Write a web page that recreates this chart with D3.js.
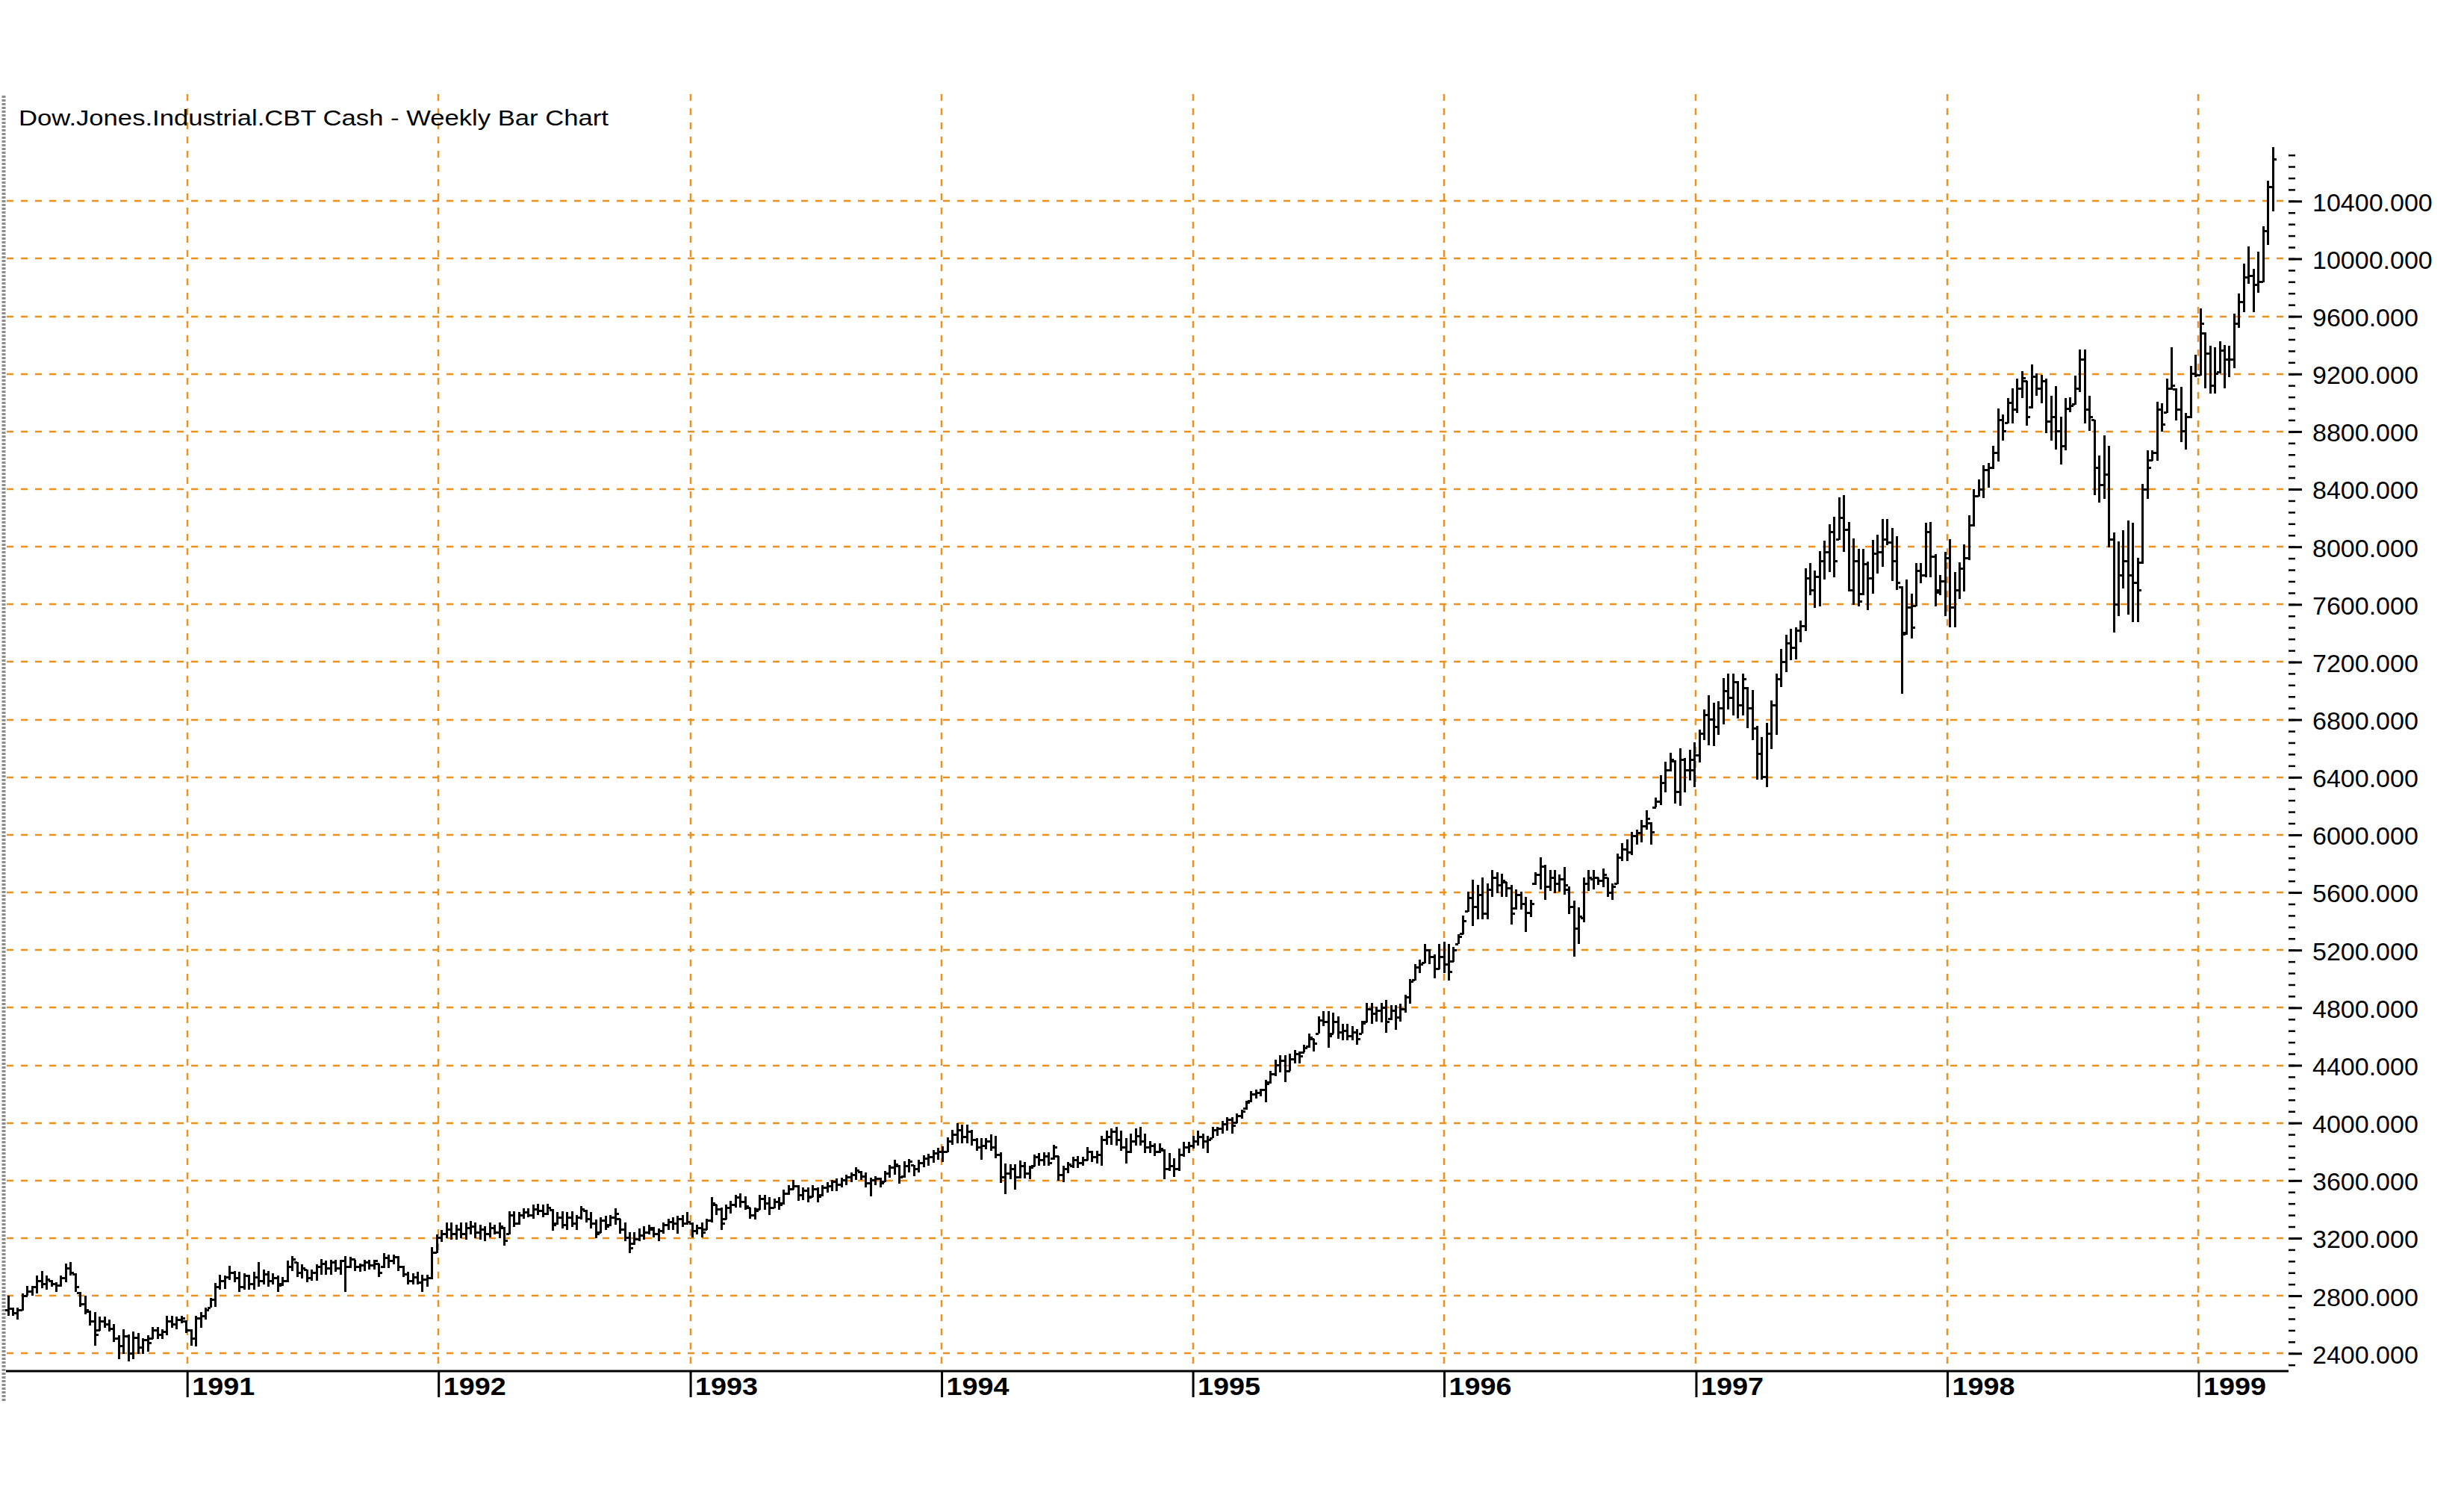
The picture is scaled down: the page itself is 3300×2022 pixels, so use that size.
<!DOCTYPE html>
<html>
<head>
<meta charset="utf-8">
<script src="https://cdn.jsdelivr.net/npm/d3@7"></script>
<style>
  body { margin: 0; background: #fff; }
  text { font-family: "Liberation Sans", Arial, sans-serif; }
</style>
</head>
<body>
<div id="chart"></div>
<script>

var title = "Dow.Jones.Industrial.CBT Cash - Weekly Bar Chart";

// weekly bars [open, high, low, close], grouped by the year the week ends in
var w1990 = [
  [2700,2800,2663,2710],[2710,2715,2663,2680],[2680,2715,2637,2700],[2700,2818,2697,2800],
  [2800,2870,2800,2830],[2830,2870,2800,2860],[2860,2939,2818,2900],[2900,2974,2853,2880],
  [2880,2939,2844,2910],[2900,2910,2865,2880],[2880,2896,2827,2870],[2870,2939,2865,2920],
  [2920,3025,2896,2990],[2990,3034,2939,2960],[2950,2956,2827,2860],[2820,2827,2723,2740],
  [2740,2800,2671,2700],[2690,2697,2594,2620],[2620,2689,2455,2530],[2560,2654,2559,2620],
  [2620,2654,2576,2600],[2600,2637,2550,2570],[2570,2602,2481,2500],[2500,2524,2360,2450],
  [2450,2568,2395,2520],[2520,2533,2343,2400],[2400,2550,2360,2510],[2510,2541,2395,2440],
  [2440,2507,2395,2490],[2490,2524,2412,2470],[2500,2585,2498,2560],[2560,2585,2498,2530],
  [2530,2568,2498,2550],[2550,2663,2524,2620],[2620,2663,2576,2600],[2600,2654,2568,2630],
  [2630,2663,2611,2640]
];

var w1991 = [
  [2620,2628,2542,2560],[2560,2568,2455,2500],[2500,2663,2447,2640],[2640,2689,2576,2660],
  [2660,2715,2637,2700],[2715,2784,2715,2770],[2770,2887,2723,2860],[2860,2948,2844,2900],
  [2900,2940,2845,2930],[2930,3010,2910,2960],[2960,2974,2896,2920],[2920,2965,2827,2860],
  [2860,2957,2844,2940],[2940,2945,2844,2880],[2880,2965,2844,2930],[2930,3034,2861,2900],
  [2900,2983,2879,2950],[2950,2974,2861,2900],[2900,2957,2879,2920],[2920,2939,2827,2870],
  [2880,2930,2870,2900],[2900,3043,2896,3000],[3000,3077,2974,3050],[3030,3034,2931,2960],
  [2960,3017,2922,2990],[2980,2983,2896,2920],[2920,2983,2905,2960],[2960,3017,2905,3000],
  [3000,3052,2948,3020],[3020,3043,2948,2990],[2990,3051,2948,3030],[3030,3051,2965,2990],
  [2990,3051,2948,3040],[3040,3077,2827,3000],[3000,3068,2991,3050],[3050,3051,2974,3000],
  [3000,3025,2965,3010],[3010,3051,2974,3030],[3030,3051,2983,3010],[3010,3051,2983,3040],
  [3020,3025,2931,2960],[3000,3094,2991,3060],[3060,3086,2991,3040],[3040,3086,3017,3070],
  [3070,3077,2974,3000],[3000,3008,2931,2950],[2950,2965,2879,2900],[2900,2957,2879,2930],
  [2930,2965,2879,2890],[2890,2948,2827,2910],[2910,2948,2861,2920],[2920,3138,2913,3100]
];

var w1992 = [
  [3100,3224,3095,3200],[3200,3259,3172,3230],[3230,3310,3198,3260],[3260,3310,3190,3230],
  [3230,3293,3190,3260],[3260,3310,3198,3230],[3230,3310,3190,3270],[3270,3319,3224,3280],
  [3280,3310,3198,3240],[3240,3293,3190,3260],[3260,3284,3181,3230],[3230,3310,3207,3270],
  [3270,3293,3224,3240],[3240,3310,3198,3280],[3270,3275,3146,3180],[3230,3388,3224,3360],
  [3360,3388,3276,3300],[3300,3380,3295,3360],[3360,3406,3337,3380],[3380,3406,3345,3360],
  [3360,3432,3337,3400],[3400,3440,3362,3390],[3390,3432,3345,3370],[3370,3440,3362,3410],
  [3395,3400,3250,3290],[3300,3380,3293,3340],[3340,3388,3267,3290],[3290,3380,3259,3340],
  [3340,3388,3276,3300],[3300,3362,3259,3340],[3340,3423,3328,3400],[3390,3397,3311,3330],
  [3330,3380,3267,3300],[3300,3328,3198,3230],[3240,3345,3235,3320],[3320,3354,3259,3280],
  [3290,3362,3285,3340],[3340,3406,3293,3370],[3330,3337,3233,3260],[3260,3310,3181,3200],
  [3200,3241,3095,3130],[3160,3241,3155,3190],[3190,3267,3181,3220],[3220,3284,3190,3240],
  [3240,3293,3224,3270],[3260,3276,3207,3230],[3230,3267,3181,3250],[3250,3310,3233,3290],
  [3290,3337,3259,3310],[3310,3345,3259,3300],[3300,3354,3233,3330],[3330,3362,3276,3300]
];

var w1993 = [
  [3300,3380,3293,3310],[3300,3310,3207,3250],[3250,3293,3224,3270],[3270,3310,3207,3240],
  [3260,3337,3259,3320],[3320,3483,3310,3440],[3430,3432,3362,3400],[3400,3414,3259,3300],
  [3330,3432,3328,3410],[3410,3458,3371,3430],[3430,3501,3414,3480],[3480,3510,3414,3450],
  [3450,3492,3397,3420],[3410,3414,3337,3360],[3360,3414,3328,3390],[3400,3501,3397,3470],
  [3470,3501,3397,3440],[3440,3484,3362,3410],[3410,3475,3406,3450],[3450,3484,3397,3430],
  [3440,3535,3432,3510],[3510,3570,3501,3540],[3540,3604,3535,3560],[3560,3570,3458,3500],
  [3500,3553,3466,3530],[3530,3553,3449,3480],[3490,3570,3484,3540],[3540,3553,3449,3490],
  [3500,3570,3492,3550],[3550,3587,3518,3560],[3560,3604,3527,3590],[3590,3613,3527,3570],
  [3570,3622,3553,3600],[3600,3639,3570,3620],[3620,3656,3587,3640],[3640,3691,3604,3670],
  [3660,3665,3604,3630],[3630,3656,3553,3580],[3580,3622,3492,3600],[3600,3630,3570,3610],
  [3610,3622,3553,3580],[3590,3665,3587,3650],[3650,3708,3622,3690],[3690,3743,3639,3710],
  [3700,3708,3578,3620],[3630,3734,3622,3700],[3700,3751,3656,3730],[3705,3710,3630,3680],
  [3680,3743,3656,3720],[3720,3777,3691,3750],[3750,3788,3705,3760],[3760,3812,3725,3790],
  [3790,3829,3743,3800]
];

var w1994 = [
  [3800,3840,3730,3800],[3800,3900,3795,3870],[3870,3950,3850,3920],[3920,3997,3860,3950],
  [3950,3990,3860,3900],[3900,3990,3860,3940],[3940,3953,3841,3880],[3880,3893,3807,3830],
  [3830,3893,3746,3840],[3840,3893,3815,3870],[3870,3919,3807,3830],[3830,3910,3755,3780],
  [3780,3798,3582,3620],[3620,3720,3504,3650],[3650,3712,3608,3680],[3680,3712,3539,3620],
  [3620,3737,3615,3700],[3700,3729,3617,3650],[3650,3703,3608,3690],[3700,3781,3695,3760],
  [3760,3789,3703,3740],[3740,3798,3703,3770],[3770,3798,3703,3720],[3750,3850,3746,3830],
  [3770,3772,3599,3640],[3640,3703,3591,3680],[3680,3729,3651,3710],[3700,3763,3686,3740],
  [3740,3772,3686,3720],[3720,3763,3703,3740],[3740,3833,3737,3800],[3800,3807,3729,3760],
  [3760,3807,3720,3780],[3780,3910,3703,3880],[3880,3945,3850,3900],[3900,3962,3850,3940],
  [3940,3971,3841,3880],[3880,3945,3807,3830],[3830,3893,3720,3800],[3800,3927,3789,3870],
  [3870,3962,3841,3910],[3910,3971,3841,3870],[3870,3927,3789,3830],[3830,3876,3789,3840],
  [3840,3858,3772,3800],[3800,3858,3789,3820],[3810,3815,3607,3680],[3680,3789,3668,3700],
  [3700,3755,3625,3680],[3680,3824,3668,3780],[3780,3867,3763,3830],[3830,3867,3789,3840]
];

var w1995 = [
  [3840,3910,3824,3870],[3870,3945,3841,3900],[3900,3927,3824,3870],[3870,3910,3789,3880],
  [3893,3971,3893,3950],[3950,3971,3910,3960],[3960,4014,3927,3990],[3990,4040,3945,4020],
  [4020,4040,3927,3980],[4000,4066,3997,4050],[4050,4092,4031,4080],[4100,4152,4092,4140],
  [4150,4221,4144,4200],[4200,4230,4170,4210],[4210,4238,4187,4230],[4230,4299,4144,4270],
  [4280,4359,4273,4340],[4340,4437,4325,4400],[4400,4472,4351,4430],[4430,4472,4282,4360],
  [4360,4481,4360,4440],[4440,4507,4412,4480],[4480,4498,4412,4460],[4489,4541,4489,4520],
  [4530,4619,4524,4590],[4580,4584,4498,4550],[4620,4740,4619,4710],[4710,4775,4671,4700],
  [4700,4775,4524,4600],[4620,4766,4619,4700],[4700,4740,4584,4630],[4630,4688,4576,4640],
  [4640,4688,4576,4600],[4600,4671,4576,4630],[4630,4654,4541,4580],[4620,4706,4619,4690],
  [4700,4835,4697,4790],[4790,4835,4688,4760],[4760,4809,4705,4780],[4780,4835,4697,4800],
  [4800,4852,4628,4700],[4720,4818,4714,4780],[4780,4818,4645,4730],[4730,4826,4705,4790],
  [4790,4890,4764,4870],[4870,5000,4830,4980],[4990,5101,4989,5080],[5080,5136,5041,5100],
  [5110,5240,5110,5200],[5200,5205,5101,5150],[5150,5170,5006,5070],[5070,5240,5067,5150]
];

var w1996 = [
  [5150,5257,5041,5100],[5100,5240,4989,5050],[5120,5222,5119,5200],[5240,5309,5240,5290],
  [5310,5438,5309,5400],[5470,5603,5465,5560],[5560,5689,5369,5500],[5500,5654,5412,5580],
  [5580,5706,5412,5450],[5450,5663,5412,5620],[5620,5758,5568,5700],[5700,5741,5594,5650],
  [5650,5732,5568,5680],[5670,5672,5568,5630],[5630,5654,5378,5450],[5490,5620,5482,5580],
  [5580,5603,5482,5520],[5520,5568,5326,5460],[5460,5551,5430,5520],[5660,5740,5654,5720],
  [5720,5844,5620,5780],[5780,5793,5551,5640],[5640,5758,5611,5700],[5700,5758,5594,5660],
  [5660,5724,5603,5690],[5690,5775,5585,5650],[5620,5640,5450,5500],[5500,5542,5153,5350],
  [5350,5499,5240,5430],[5420,5706,5395,5660],[5660,5758,5611,5700],[5690,5758,5620,5700],
  [5700,5706,5654,5680],[5680,5767,5637,5720],[5700,5706,5568,5600],[5600,5663,5551,5640],
  [5660,5871,5655,5840],[5840,5940,5819,5900],[5900,5966,5819,5880],[5880,6018,5862,5990],
  [5990,6035,5931,6010],[6010,6104,5948,6060],[6060,6173,6035,6110],[6080,6087,5931,6020],
  [6190,6260,6190,6230],[6230,6415,6208,6360],[6360,6510,6294,6450],[6450,6570,6441,6520],
  [6510,6519,6216,6300],[6300,6600,6200,6520],[6520,6536,6294,6450],[6450,6590,6380,6520]
];

var w1997 = [
  [6450,6641,6330,6550],[6550,6731,6500,6700],[6700,6873,6659,6830],[6830,6971,6624,6800],
  [6800,6918,6615,6750],[6750,6927,6695,6880],[6880,7087,6766,7000],[7000,7122,6873,6950],
  [6950,7122,6828,7060],[7060,7070,6810,6900],[6900,7122,6828,7080],[7020,7024,6739,6880],
  [6880,7006,6659,6740],[6740,6757,6384,6560],[6560,6677,6384,6400],[6400,6775,6330,6700],
  [6700,6935,6597,6900],[6900,7122,6695,7080],[7080,7291,7024,7200],[7200,7389,7131,7330],
  [7330,7433,7211,7300],[7300,7442,7220,7420],[7420,7487,7336,7450],[7450,7852,7416,7780],
  [7780,7887,7665,7700],[7700,7834,7576,7790],[7790,7969,7585,7900],[7900,8040,7773,7960],
  [7960,8156,7825,8100],[8100,8209,7789,7900],[8050,8341,8047,8200],[8200,8359,7967,8120],
  [8120,8173,7691,7700],[7700,8056,7594,7900],[7900,7985,7585,7620],[7670,7985,7665,7880],
  [7880,7896,7558,7780],[7780,8047,7674,7950],[7950,8083,7816,7960],[7960,8191,7860,8050],
  [8050,8191,8012,8030],[8030,8129,7764,7900],[7900,8076,7700,7750],[7720,7727,6980,7390],
  [7400,7771,7390,7580],[7580,7674,7362,7440],[7590,7887,7585,7830],[7830,7887,7745,7800],
  [7800,8167,7786,8100],[8100,8172,7790,7930],[7930,7950,7585,7680],[7700,7803,7665,7760]
];

var w1998 = [
  [7760,7967,7518,7920],[7920,8054,7441,7580],[7580,7825,7442,7700],[7700,7890,7640,7850],
  [7850,8017,7689,7920],[7920,8218,7907,8150],[8150,8400,8141,8350],[8350,8469,8348,8400],
  [8400,8564,8339,8530],[8530,8581,8408,8550],[8550,8702,8538,8650],[8650,8961,8590,8880],
  [8880,8918,8737,8800],[8860,9031,8858,9000],[9000,9100,8858,8950],[8950,9169,8927,9100],
  [9100,9221,9031,9170],[9150,9152,8840,8900],[8970,9264,8961,9180],[9180,9203,9048,9100],
  [9100,9195,8996,9150],[9150,9169,8789,8870],[8870,9048,8737,8900],[8900,9117,8676,8800],
  [8800,8901,8573,8700],[8700,9031,8668,8960],[8960,9039,8936,8980],[8990,9186,8987,9100],
  [9100,9368,9074,9300],[9300,9368,8858,8950],[8950,9048,8806,8900],[8880,8884,8357,8550],
  [8550,8633,8305,8430],[8430,8771,8331,8500],[8500,8702,7994,8050],[8050,8097,7406,7600],
  [7600,8037,7518,7800],[7800,8115,7709,7900],[7900,8184,7527,7800],[7800,8167,7475,7750],
  [7750,7925,7475,7700],[7890,8434,7881,8400],[8400,8668,8331,8550],[8600,8668,8599,8650],
  [8650,9005,8599,8950],[8950,8996,8797,8850],[8930,9169,8927,9100],[9100,9385,9091,9120],
  [9090,9100,8875,8950],[8950,9108,8728,8800],[8800,8927,8676,8900],[8900,9255,8892,9200]
];

var w1999 = [
  [9200,9333,9178,9190],[9190,9653,9186,9550],[9480,9489,9100,9340],[9340,9394,9065,9120],
  [9120,9385,9065,9200],[9210,9428,9204,9360],[9360,9400,9100,9300],[9300,9394,9178,9300],
  [9300,9619,9238,9550],[9550,9760,9520,9700],[9700,9964,9627,9870],[9870,10085,9826,9880],
  [9880,9930,9627,9820],[9820,10051,9765,9840],[9840,10223,9835,10190],[10190,10543,10094,10500],
  [10500,10773,10327,10690]
];

var priceTicks = [2400, 2800, 3200, 3600, 4000, 4400, 4800, 5200, 5600, 6000,
                  6400, 6800, 7200, 7600, 8000, 8400, 8800, 9200, 9600, 10000, 10400];
var yearLabels = [1991, 1992, 1993, 1994, 1995, 1996, 1997, 1998, 1999];

var width = 3300, height = 2022;
var gridColor = "#f0901c";

var bars = [].concat(w1990, w1991, w1992, w1993, w1994, w1995, w1996, w1997, w1998, w1999);
var weeks = d3.timeMonday.range(new Date(1990, 3, 16), new Date(1999, 3, 20));
var data = bars.map(function(b, i) {
  return { date: weeks[i], open: b[0], high: b[1], low: b[2], close: b[3] };
});

var x = d3.scaleTime()
    .domain([weeks[0], weeks[weeks.length - 1]])
    .range([11, 3044]);

var y = d3.scaleLinear()
    .domain([2282, 11143])
    .range([1835, 126]);

var svg = d3.select("#chart").append("svg")
    .attr("width", width)
    .attr("height", height)
    .style("display", "block");

svg.append("rect")
    .attr("width", width)
    .attr("height", height)
    .attr("fill", "#fff");

// left frame strip
svg.append("line")
    .attr("x1", 5).attr("x2", 5)
    .attr("y1", 128).attr("y2", 1877)
    .attr("stroke", "#8c8c8c")
    .attr("stroke-width", 5)
    .attr("stroke-dasharray", "3,2");

// horizontal grid
svg.append("g").selectAll("line")
    .data(priceTicks)
    .enter().append("line")
    .attr("x1", 9).attr("x2", 3058)
    .attr("y1", function(d) { return Math.round(y(d)); })
    .attr("y2", function(d) { return Math.round(y(d)); })
    .attr("stroke", gridColor)
    .attr("stroke-width", 2.5)
    .attr("stroke-dasharray", "9,10");

// vertical grid at year starts
svg.append("g").selectAll("line")
    .data(yearLabels)
    .enter().append("line")
    .attr("x1", function(d) { return Math.round(x(new Date(d, 0, 1))); })
    .attr("x2", function(d) { return Math.round(x(new Date(d, 0, 1))); })
    .attr("y1", 126).attr("y2", 1835)
    .attr("stroke", gridColor)
    .attr("stroke-width", 2.5)
    .attr("stroke-dasharray", "9,10");

svg.append("text")
    .attr("x", 25)
    .attr("y", 168)
    .attr("font-size", 29)
    .attr("textLength", 790)
    .attr("lengthAdjust", "spacingAndGlyphs")
    .attr("fill", "#000")
    .text(title);

// weekly OHLC bars
svg.append("g").selectAll("path")
    .data(data)
    .enter().append("path")
    .attr("fill", "none")
    .attr("stroke", "#000")
    .attr("stroke-width", 3)
    .attr("shape-rendering", "crispEdges")
    .attr("d", function(d) {
      var cx = x(d.date);
      return "M" + cx + "," + y(d.high) + "V" + y(d.low) +
             "M" + (cx - 4.5) + "," + y(d.open) + "H" + cx +
             "M" + cx + "," + y(d.close) + "H" + (cx + 4.5);
    });

// bottom axis
svg.append("line")
    .attr("x1", 8).attr("x2", 3065)
    .attr("y1", 1836).attr("y2", 1836)
    .attr("stroke", "#000")
    .attr("stroke-width", 3);

var xAxis = svg.append("g")
    .attr("transform", "translate(0,1835)")
    .call(d3.axisBottom(x)
      .tickValues(yearLabels.map(function(yr) { return new Date(yr, 0, 1); }))
      .tickSize(36)
      .tickSizeOuter(0)
      .tickFormat(d3.timeFormat("%Y")));

xAxis.select(".domain").remove();
xAxis.selectAll(".tick line")
    .attr("stroke", "#000")
    .attr("stroke-width", 3);
xAxis.selectAll(".tick text")
    .attr("x", 6)
    .attr("y", 33)
    .attr("dy", 0)
    .attr("text-anchor", "start")
    .attr("font-family", "'Liberation Sans', Arial, sans-serif")
    .attr("font-weight", "bold")
    .attr("font-size", 33)
    .attr("textLength", 84)
    .attr("lengthAdjust", "spacingAndGlyphs")
    .attr("fill", "#000");

// right price axis
var minorTicks = d3.range(2320, 10721, 80);

var yMinor = svg.append("g")
    .attr("transform", "translate(3065,0)")
    .call(d3.axisRight(y).tickValues(minorTicks).tickSize(9).tickFormat(""));
yMinor.select(".domain").remove();
yMinor.selectAll(".tick line").attr("stroke", "#000").attr("stroke-width", 2.5);

var yAxis = svg.append("g")
    .attr("transform", "translate(3065,0)")
    .call(d3.axisRight(y)
      .tickValues(priceTicks)
      .tickSize(18)
      .tickPadding(14)
      .tickFormat(d3.format(".3f")));
yAxis.select(".domain").remove();
yAxis.selectAll(".tick line").attr("stroke", "#000").attr("stroke-width", 3);
yAxis.selectAll(".tick text")
    .attr("font-family", "'Liberation Sans', Arial, sans-serif")
    .attr("font-size", 34)
    .attr("dy", "0.38em")
    .attr("fill", "#000");

</script>
</body>
</html>
